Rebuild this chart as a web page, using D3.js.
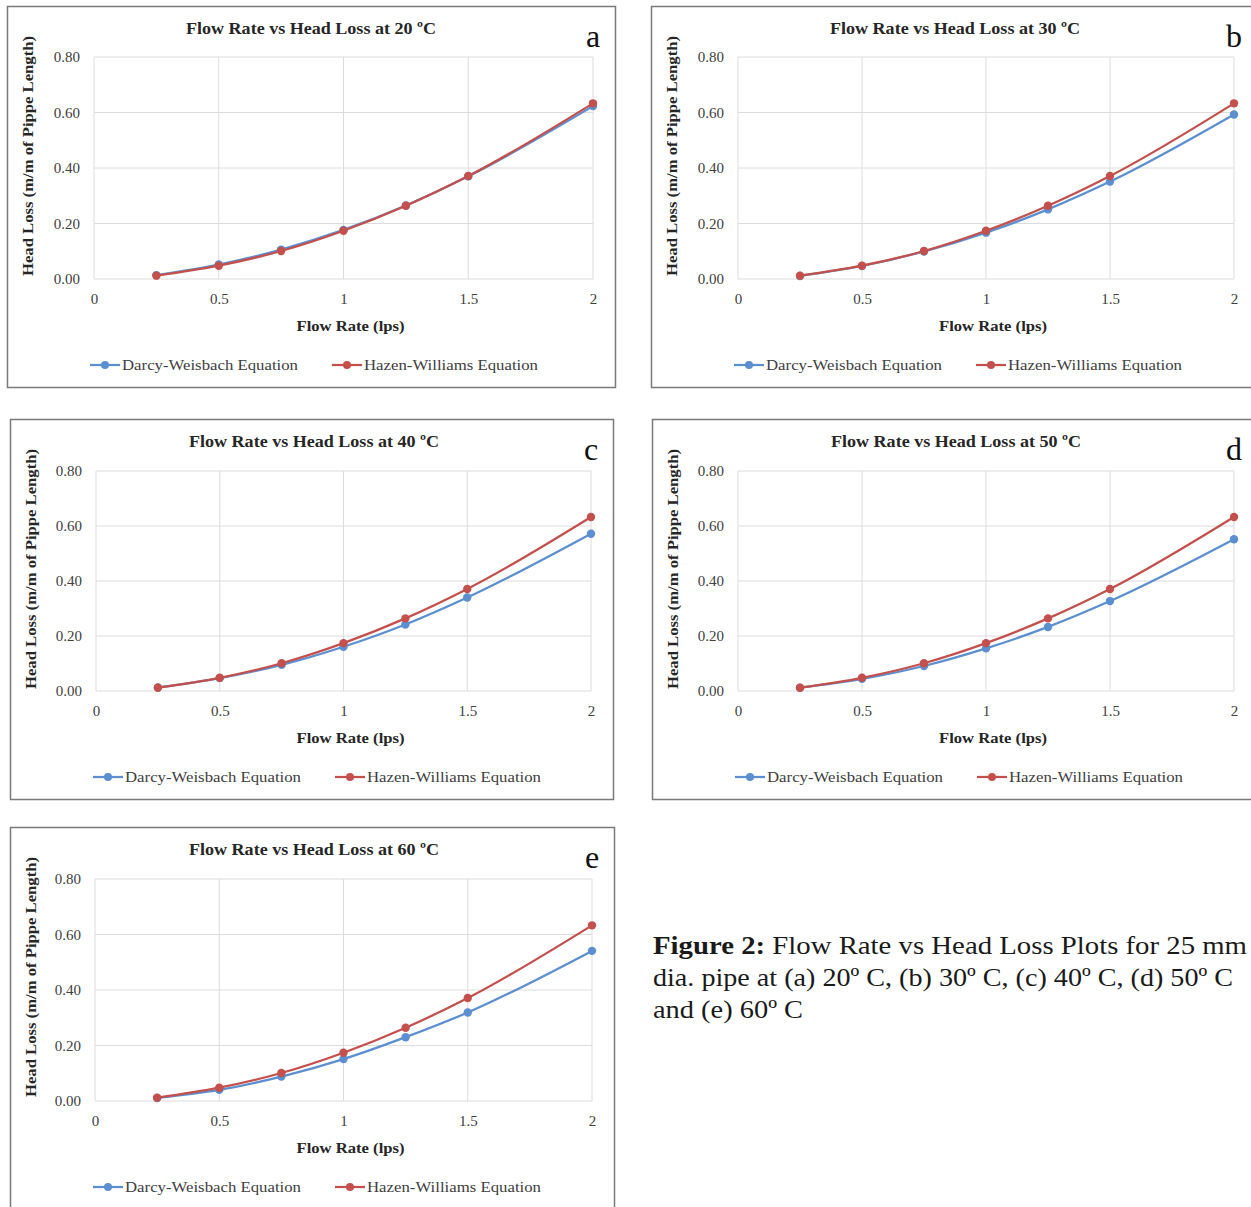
<!DOCTYPE html>
<html><head><meta charset="utf-8">
<script src="https://cdn.jsdelivr.net/npm/d3@7"></script>
<style>
html,body{margin:0;padding:0;background:#fff;overflow:hidden}
svg{display:block}
</style></head>
<body>
<svg id="chart" width="1251" height="1207"></svg>
<script>
// ---- data ----
const flowRates = [0.25, 0.5, 0.75, 1.0, 1.25, 1.5, 2.0];
const hazenWilliams = [0.012, 0.048, 0.101, 0.174, 0.264, 0.371, 0.633];
const darcy20 = [0.014, 0.052, 0.106, 0.177, 0.265, 0.370, 0.623];
const darcy30 = [0.011, 0.047, 0.099, 0.167, 0.251, 0.351, 0.593];
const darcy40 = [0.013, 0.047, 0.095, 0.161, 0.242, 0.340, 0.572];
const darcy50 = [0.012, 0.044, 0.091, 0.155, 0.233, 0.327, 0.552];
const darcy60 = [0.011, 0.040, 0.088, 0.151, 0.230, 0.319, 0.541];
const temperatures = [20, 30, 40, 50, 60];
const panelLetters = ["a", "b", "c", "d", "e"];
const darcySeries = [darcy20, darcy30, darcy40, darcy50, darcy60];
const xTicks = [0, 0.5, 1, 1.5, 2];
const xTickLabels = ["0", "0.5", "1", "1.5", "2"];
const yTicks = [0, 0.2, 0.4, 0.6, 0.8];
const seriesNames = ["Darcy-Weisbach Equation", "Hazen-Williams Equation"];
const captionLines = [
  ["Figure 2:", " Flow Rate vs Head Loss Plots for 25 mm"],
  ["", "dia. pipe at (a) 20\u00ba C, (b) 30\u00ba C, (c) 40\u00ba C, (d) 50\u00ba C"],
  ["", "and (e) 60\u00ba C"]
];

// ---- layout ----
const layout = [
  {left: 7,   top: 6,   w: 608, h: 381, px0: 94,  px1: 593,  py1: 57,  py0: 279},
  {left: 651, top: 6,   w: 612, h: 381, px0: 738, px1: 1234, py1: 57,  py0: 279},
  {left: 10,  top: 419, w: 603, h: 380, px0: 96,  px1: 591,  py1: 471, py0: 691},
  {left: 652, top: 419, w: 612, h: 380, px0: 738, px1: 1234, py1: 471, py0: 691},
  {left: 10,  top: 827, w: 604, h: 392, px0: 95,  px1: 592,  py1: 879, py0: 1101}
];
const captionLengths = [594, 580, 150];
const blue = "#5b8fcf", red = "#c4504d";
const serif = "'Liberation Serif', 'Times New Roman', serif";
const svg = d3.select("#chart");

layout.forEach((L, i) => {
  const g = svg.append("g");
  g.append("rect").attr("x", L.left + 0.5).attr("y", L.top + 0.5)
    .attr("width", L.w).attr("height", L.h)
    .attr("fill", "#fff").attr("stroke", "#7a7a7a").attr("stroke-width", 1.5);

  const x = d3.scaleLinear().domain([0, 2]).range([L.px0, L.px1]);
  const y = d3.scaleLinear().domain([0, 0.8]).range([L.py0, L.py1]);

  // grid
  g.append("g").selectAll("line.h").data(yTicks).join("line")
    .attr("x1", L.px0).attr("x2", L.px1)
    .attr("y1", d => y(d)).attr("y2", d => y(d))
    .attr("stroke", "#dcdcdc").attr("stroke-width", 1);
  g.append("g").selectAll("line.v").data(xTicks).join("line")
    .attr("x1", d => x(d)).attr("x2", d => x(d))
    .attr("y1", L.py1).attr("y2", L.py0)
    .attr("stroke", "#dcdcdc").attr("stroke-width", 1);

  // axes (labels only)
  const yAxis = d3.axisLeft(y).tickValues(yTicks).tickFormat(d3.format(".2f")).tickSize(0).tickPadding(14);
  const ya = g.append("g").attr("transform", `translate(${L.px0},0)`).call(yAxis);
  ya.select(".domain").remove();
  ya.selectAll("text").attr("font-family", serif).attr("font-size", 15).attr("fill", "#404040");

  const xAxis = d3.axisBottom(x).tickValues(xTicks).tickFormat((d, k) => xTickLabels[k]).tickSize(0).tickPadding(14);
  const xa = g.append("g").attr("transform", `translate(0,${L.py0})`).call(xAxis);
  xa.select(".domain").remove();
  xa.selectAll("text").attr("font-family", serif).attr("font-size", 15).attr("fill", "#404040");

  // titles
  g.append("text").attr("x", L.left + 304).attr("y", L.top + 28)
    .attr("text-anchor", "middle").attr("font-family", serif).attr("font-weight", "bold")
    .attr("font-size", 17).attr("fill", "#262626")
    .attr("textLength", 250).attr("lengthAdjust", "spacingAndGlyphs")
    .text(`Flow Rate vs Head Loss at ${temperatures[i]} \u00baC`);
  g.append("text").attr("x", (L.px0 + L.px1) / 2 + 7).attr("y", L.py0 + 52)
    .attr("text-anchor", "middle").attr("font-family", serif).attr("font-weight", "bold")
    .attr("font-size", 15).attr("fill", "#262626")
    .attr("textLength", 108).attr("lengthAdjust", "spacingAndGlyphs")
    .text("Flow Rate (lps)");
  const cy = L.top + 150;
  g.append("text").attr("transform", `translate(${L.left + 26},${cy}) rotate(-90)`)
    .attr("text-anchor", "middle").attr("font-family", serif).attr("font-weight", "bold")
    .attr("font-size", 15).attr("fill", "#262626").attr("textLength", 240).attr("lengthAdjust", "spacingAndGlyphs")
    .text("Head Loss (m/m of Pippe Length)");
  g.append("text").attr("x", L.px1).attr("y", L.top + 41)
    .attr("text-anchor", "middle").attr("font-family", serif)
    .attr("font-size", 32).attr("fill", "#111").text(panelLetters[i]);

  // lines
  const line = d3.line().x(d => x(d[0])).y(d => y(d[1])).curve(d3.curveMonotoneX);
  const sets = [
    {vals: darcySeries[i], color: blue},
    {vals: hazenWilliams, color: red}
  ];
  sets.forEach(s => {
    const pts = flowRates.map((f, k) => [f, s.vals[k]]);
    g.append("path").attr("d", line(pts)).attr("fill", "none")
      .attr("stroke", s.color).attr("stroke-width", 2.25);
    g.append("g").selectAll("circle").data(pts).join("circle")
      .attr("cx", d => x(d[0])).attr("cy", d => y(d[1])).attr("r", 4.2)
      .attr("fill", s.color);
  });

  // legend
  const lx = L.left + 83, ly = L.py0 + 86;
  seriesNames.forEach((name, k) => {
    const ox = lx + k * 242;
    const c = k === 0 ? blue : red;
    g.append("line").attr("x1", ox).attr("x2", ox + 30).attr("y1", ly).attr("y2", ly)
      .attr("stroke", c).attr("stroke-width", 2.25);
    g.append("circle").attr("cx", ox + 15).attr("cy", ly).attr("r", 4).attr("fill", c);
    g.append("text").attr("x", ox + 32).attr("y", ly + 5)
      .attr("font-family", serif).attr("font-size", 15.5).attr("fill", "#404040")
      .attr("textLength", k === 0 ? 176 : 174).attr("lengthAdjust", "spacingAndGlyphs")
      .text(name);
  });
});

// caption
const cap = svg.append("g");
captionLines.forEach((ln, k) => {
  const t = cap.append("text").attr("x", 653).attr("y", 954 + k * 32)
    .attr("font-family", serif).attr("font-size", 26).attr("fill", "#1a1a1a")
    .attr("textLength", captionLengths[k]).attr("lengthAdjust", "spacingAndGlyphs");
  if (ln[0]) t.append("tspan").attr("font-weight", "bold").text(ln[0]);
  t.append("tspan").text(ln[1]);
});
</script>
</body></html>
